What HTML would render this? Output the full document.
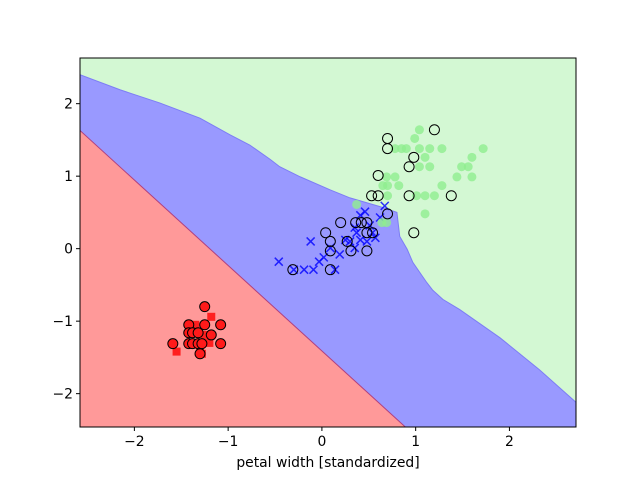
<!DOCTYPE html>
<html><head><meta charset="utf-8"><style>
body{margin:0;background:#fff;}
svg text{font-family:"DejaVu Sans","Liberation Sans",sans-serif;font-size:13.9px;fill:#000;}
</style></head><body>
<svg id="chart" width="640" height="480" xmlns="http://www.w3.org/2000/svg"></svg>
<script>
const xTicks=[-2,-1,0,1,2];
const yTicks=[-2,-1,0,1,2];
const greenBoundaryX=[-2.58,-2.15,-1.73,-1.30,-0.98,-0.77,-0.55,-0.45,-0.23,0.09,0.30,0.62,0.80,0.83,0.91,0.97,1.12,1.18,1.29,1.47,1.90,2.32,2.71];
const greenBoundaryY=[2.40,2.19,2.01,1.80,1.57,1.43,1.23,1.13,0.99,0.81,0.70,0.58,0.50,0.17,-0.01,-0.19,-0.47,-0.57,-0.70,-0.84,-1.23,-1.67,-2.12];
const redBoundaryX=[-2.58,0.89];
const redBoundaryY=[1.63,-2.46];
const setosaTrainX=[-1.55,-1.30,-1.18,-1.20,-1.42,-1.35,-1.25,-1.32,-1.28];
const setosaTrainY=[-1.42,-1.42,-0.94,-1.30,-1.31,-1.05,-1.19,-1.31,-1.45];
const versicolorTrainX=[-0.46,-0.30,-0.19,-0.09,-0.03,0.02,-0.12,0.14,0.30,0.35,0.41,0.46,0.51,0.57,0.62,0.67,0.35,0.41,0.25,0.19,0.09,0.37,0.48,0.54];
const versicolorTrainY=[-0.18,-0.29,-0.29,-0.29,-0.18,-0.12,0.10,-0.29,0.10,0.29,0.46,0.51,0.32,0.15,0.43,0.59,0.01,0.12,0.12,-0.08,0.01,0.22,0.10,0.22];
const virginicaTrainX=[1.04,0.99,0.78,0.85,0.90,1.04,1.15,1.28,1.72,1.10,1.60,1.04,1.15,1.56,0.69,0.78,1.44,1.60,0.65,0.70,0.82,1.28,0.70,1.01,1.10,1.20,1.10,0.37,0.69,0.64,1.49];
const virginicaTrainY=[1.64,1.52,1.38,1.38,1.38,1.38,1.38,1.38,1.38,1.26,1.26,1.13,1.13,1.13,0.99,0.99,0.99,0.99,0.87,0.87,0.87,0.87,0.73,0.73,0.73,0.73,0.48,0.61,0.36,0.36,1.13];
const testX=[-1.25,-1.42,-1.25,-1.08,-1.42,-1.38,-1.32,-1.18,-1.59,-1.42,-1.38,-1.32,-1.28,-1.08,-1.30,
 -0.31,0.09,0.04,0.09,0.09,0.20,0.27,0.31,0.36,0.42,0.48,0.48,0.54,0.48,0.70,
 1.20,0.70,0.70,0.98,0.93,0.60,0.53,0.60,0.93,1.38,0.98];
const testY=[-0.80,-1.05,-1.05,-1.05,-1.16,-1.16,-1.16,-1.19,-1.31,-1.31,-1.31,-1.31,-1.31,-1.31,-1.45,
 -0.29,-0.29,0.22,0.10,-0.03,0.36,0.10,-0.03,0.36,0.36,0.36,0.22,0.22,-0.03,0.48,
 1.64,1.52,1.38,1.26,1.13,1.01,0.73,0.73,0.73,0.73,0.22];
const testClass=[0,0,0,0,0,0,0,0,0,0,0,0,0,0,0,1,1,1,1,1,1,1,1,1,1,1,1,1,1,1,2,2,2,2,2,2,2,2,2,2,2];

const NS='http://www.w3.org/2000/svg';
const svg=document.getElementById('chart');
const L=80,R=576,T=58,B=427,xmin=-2.58,xmax=2.71,ymin=-2.46,ymax=2.63;
const sx=v=>L+(v-xmin)/(xmax-xmin)*(R-L);
const sy=v=>B-(v-ymin)/(ymax-ymin)*(B-T);
function mk(tag,attrs,parent){const e=document.createElementNS(NS,tag);for(const k in attrs)e.setAttribute(k,attrs[k]);(parent||svg).appendChild(e);return e;}

const defs=mk('defs',{});
const cp=mk('clipPath',{id:'clip'},defs);
mk('rect',{x:L,y:T,width:R-L,height:B-T},cp);
const plot=mk('g',{'clip-path':'url(#clip)'});



let r=mk('rect',{x:L,y:T,width:R-L,height:B-T,fill:'#d3f8d3'},plot);



let pts=greenBoundaryX.map((x,i)=>sx(x)+','+sy(greenBoundaryY[i]));
pts.push(R+','+B,L+','+B);
let p=mk('polygon',{points:pts.join(' '),fill:'#9999ff',stroke:'#7d7df5','stroke-width':1},plot);



let rp=redBoundaryX.map((x,i)=>sx(x)+','+sy(redBoundaryY[i]));
rp.push(L+','+B);
p=mk('polygon',{points:rp.join(' '),fill:'#ff9999',stroke:'#b04080','stroke-width':1},plot);



setosaTrainX.forEach((x,i)=>{
 const e=mk('rect',{x:sx(x)-4,y:sy(setosaTrainY[i])-4,width:8,height:8,fill:'#ff0000','fill-opacity':0.8},plot);
 
 
});
versicolorTrainX.forEach((x,i)=>{
 const cx=sx(x),cy=sy(versicolorTrainY[i]);
 const e=mk('path',{d:`M${cx-4},${cy-4}L${cx+4},${cy+4}M${cx-4},${cy+4}L${cx+4},${cy-4}`,stroke:'#0000ff','stroke-opacity':0.8,'stroke-width':1.5},plot);
 
 
});
virginicaTrainX.forEach((x,i)=>{
 const e=mk('circle',{cx:sx(x),cy:sy(virginicaTrainY[i]),r:4.5,fill:'#90ee90','fill-opacity':0.8},plot);
 
 
});
testX.forEach((x,i)=>{
 const fill=testClass[i]===0?'#ff1a1a':'none';
 const e=mk('circle',{cx:sx(x),cy:sy(testY[i]),r:5,fill:fill,stroke:'#000','stroke-width':1},plot);
 
 
});

let fr=mk('rect',{x:L,y:T,width:R-L,height:B-T,fill:'none',stroke:'#000','stroke-width':1});



xTicks.forEach(v=>{
 const x=sx(v);
 const l=mk('line',{x1:x,y1:B,x2:x,y2:B+4,stroke:'#000'});
 
 
 const t=mk('text',{x:x,y:B+19,'text-anchor':'middle'});
 t.textContent=(v<0?'\u2212'+(-v):v);
 
 
});
yTicks.forEach(v=>{
 const y=sy(v);
 const l=mk('line',{x1:L-4,y1:y,x2:L,y2:y,stroke:'#000'});
 
 
 const t=mk('text',{x:L-7,y:y+5,'text-anchor':'end'});
 t.textContent=(v<0?'\u2212'+(-v):v);
 
 
});
const xl=mk('text',{x:(L+R)/2,y:467,'text-anchor':'middle'});
xl.textContent='petal width [standardized]';


</script>
</body></html>
